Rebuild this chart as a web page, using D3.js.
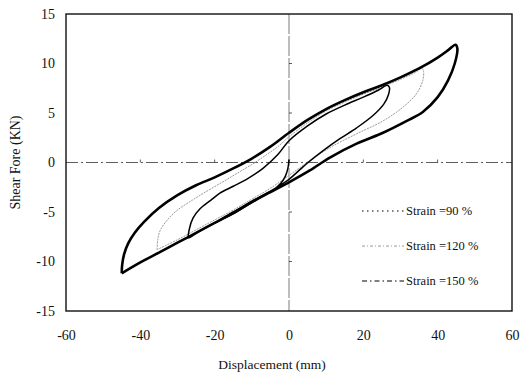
<!DOCTYPE html>
<html>
<head>
<meta charset="utf-8">
<script src="https://cdn.jsdelivr.net/npm/d3@7"></script>
<style>
  body { margin: 0; background: #fff; }
  text { font-family: "Liberation Serif", "Times New Roman", serif; fill: #111; }
</style>
</head>
<body>
<div id="chart"></div>
<script>
// hysteresis loops, [displacement mm, shear force kN]
var strain90 = [
  [0, 0.3], [-0.3, -0.6], [-1, -1.4], [-2.2, -2.1], [-4, -2.7], [-8, -3.6],
  [-12, -4.5], [-16, -5.4], [-20, -6.1], [-24, -6.9], [-27, -7.6],
  [-26.8, -6.7], [-25.8, -5.6], [-24, -4.7], [-21, -3.8], [-18.6, -3.1],
  [-15, -2.4], [-11, -1.6], [-7, -0.6], [-3, 0.8], [0, 2.2], [5, 3.7],
  [10, 4.9], [15, 5.8], [20, 6.6], [24, 7.3], [26.4, 7.8], [27, 7.6],
  [26.8, 6.9], [25.5, 5.9], [22.6, 4.75], [18.2, 3.5], [13.7, 2.4],
  [9.2, 1.2], [4.8, -0.1], [3, -0.7], [0, -1.7], [-5, -2.9], [-10, -3.9],
  [-15, -5.0], [-20, -6.1], [-25, -7.1], [-27, -7.6]
];
var strain120 = [
  [-35.5, -8.8], [-35.3, -7.8], [-34.7, -6.9], [-32.5, -5.7], [-30, -4.8],
  [-26, -3.8], [-23, -3.1], [-18, -2.0], [-14, -1.1], [-10, -0.2], [-6, 0.8],
  [-3, 1.6], [0, 2.6], [5, 4.0], [10, 5.2], [15, 6.1], [20, 6.9], [25, 7.6],
  [30, 8.4], [34, 9.1], [35.8, 9.5], [36.2, 9.2], [36, 8.3], [34.4, 7.0],
  [30.7, 5.6], [25.3, 4.2], [18.2, 2.9], [11, 1.5], [5.6, 0.2], [3, -0.5],
  [0, -1.3], [-5, -2.6], [-10, -3.7], [-15, -4.8], [-20, -5.8], [-25, -6.8],
  [-30, -7.8], [-35.5, -8.8]
];
var strain150 = [
  [-45, -11.2], [-44.9, -10.4], [-44.4, -9.3], [-43.3, -8.2], [-41.5, -7.1],
  [-39, -6.0], [-35, -4.6], [-30, -3.3], [-25, -2.3], [-20, -1.5], [-15, -0.6],
  [-10, 0.4], [-5, 1.6], [0, 3.0], [5, 4.3], [10, 5.4], [15, 6.3], [20, 7.1],
  [25, 7.8], [30, 8.6], [35, 9.5], [40, 10.6], [43, 11.4], [44.8, 11.9],
  [45.3, 11.5], [44.6, 10.0], [42.8, 8.3], [40, 6.6], [36, 5.1], [31.7, 4.2],
  [25.3, 3.0], [18.2, 1.9], [11, 0.5], [5.6, -0.8], [0, -2.0], [-5, -3.0],
  [-10, -4.0], [-15, -5.1], [-20, -6.1], [-25, -7.1], [-30, -8.1],
  [-35, -9.1], [-40, -10.1], [-45, -11.2]
];
var seriesNames = ["Strain =90 %", "Strain =120 %", "Strain =150 %"];
var xTicks = [-60, -40, -20, 0, 20, 40, 60];
var yTicks = [-15, -10, -5, 0, 5, 10, 15];

var width = 521,
    height = 376;
var plotLeft = 66, plotTop = 14, plotRight = 512, plotBottom = 311;

var svg = d3.select("#chart").append("svg")
    .attr("width", width)
    .attr("height", height);

var x = d3.scaleLinear().domain([-60, 60]).range([plotLeft, plotRight]);
var y = d3.scaleLinear().domain([-15, 15]).range([plotBottom, plotTop]);

// zero lines with little ticks on them
svg.append("line")
    .attr("x1", plotLeft).attr("x2", plotRight)
    .attr("y1", y(0)).attr("y2", y(0))
    .attr("stroke", "#333").attr("stroke-width", 0.8)
    .attr("stroke-dasharray", "12,3,2,3");
svg.append("line")
    .attr("x1", x(0)).attr("x2", x(0))
    .attr("y1", plotTop).attr("y2", plotBottom)
    .attr("stroke", "#444").attr("stroke-width", 0.7)
    .attr("stroke-dasharray", "20,2");

svg.append("g")
    .selectAll("line")
    .data(xTicks.slice(1, -1))
    .enter().append("line")
    .attr("x1", function(d) { return x(d); })
    .attr("x2", function(d) { return x(d); })
    .attr("y1", y(0) - 3).attr("y2", y(0))
    .attr("stroke", "#333").attr("stroke-width", 0.8);
svg.append("g")
    .selectAll("line")
    .data(yTicks.slice(1, -1))
    .enter().append("line")
    .attr("x1", x(0)).attr("x2", x(0) + 3)
    .attr("y1", function(d) { return y(d); })
    .attr("y2", function(d) { return y(d); })
    .attr("stroke", "#333").attr("stroke-width", 0.8);

// loops
var line = d3.line()
    .x(function(d) { return x(d[0]); })
    .y(function(d) { return y(d[1]); })
    .curve(d3.curveCatmullRom.alpha(0.5));

svg.append("path")
    .datum(strain120)
    .attr("d", line)
    .attr("fill", "none")
    .attr("stroke", "#999")
    .attr("stroke-width", 1)
    .attr("stroke-dasharray", "2,1");

svg.append("path")
    .datum(strain90)
    .attr("d", line)
    .attr("fill", "none")
    .attr("stroke", "#000")
    .attr("stroke-width", 1.5);

svg.append("path")
    .datum(strain150)
    .attr("d", line)
    .attr("fill", "none")
    .attr("stroke", "#000")
    .attr("stroke-width", 2.6)
    .attr("stroke-linejoin", "round");

// frame
svg.append("rect")
    .attr("x", plotLeft).attr("y", plotTop)
    .attr("width", plotRight - plotLeft).attr("height", plotBottom - plotTop)
    .attr("fill", "none")
    .attr("stroke", "#111")
    .attr("stroke-width", 1.4);

// axes (labels only)
var xAxis = svg.append("g")
    .attr("transform", "translate(0," + plotBottom + ")")
    .call(d3.axisBottom(x).tickValues(xTicks).tickSize(0).tickPadding(19)
        .tickFormat(function(d) { return String(d); }));
var yAxis = svg.append("g")
    .attr("transform", "translate(" + plotLeft + ",0)")
    .call(d3.axisLeft(y).tickValues(yTicks).tickSize(0).tickPadding(11)
        .tickFormat(function(d) { return String(d); }));
[xAxis, yAxis].forEach(function(a) {
    a.select(".domain").remove();
    a.selectAll("text")
        .attr("font-family", "Liberation Serif")
        .attr("font-size", 14)
        .attr("fill", "#111");
});

svg.append("text")
    .attr("x", 272).attr("y", 369)
    .attr("text-anchor", "middle")
    .attr("font-size", 13.5)
    .text("Displacement (mm)");

svg.append("text")
    .attr("transform", "translate(20," + ((plotTop + plotBottom) / 2) + ") rotate(-90)")
    .attr("text-anchor", "middle")
    .attr("font-size", 14)
    .text("Shear Fore (KN)");

// legend
var legendStyles = [
    { stroke: "#000", width: 1, dash: "1.5,3.5" },
    { stroke: "#999", width: 1, dash: "3,2,1,2" },
    { stroke: "#000", width: 1, dash: "5,3,1.5,3" }
];
var legend = svg.append("g").attr("class", "legend");
var rows = legend.selectAll("g")
    .data(seriesNames)
    .enter().append("g")
    .attr("transform", function(d, i) { return "translate(362," + (211 + i * 35) + ")"; });
rows.append("line")
    .attr("x1", 0).attr("x2", 42)
    .attr("stroke", function(d, i) { return legendStyles[i].stroke; })
    .attr("stroke-width", function(d, i) { return legendStyles[i].width; })
    .attr("stroke-dasharray", function(d, i) { return legendStyles[i].dash; });
rows.append("text")
    .attr("x", 44).attr("y", 4)
    .attr("font-size", 12.5)
    .text(function(d) { return d; });
</script>
</body>
</html>
